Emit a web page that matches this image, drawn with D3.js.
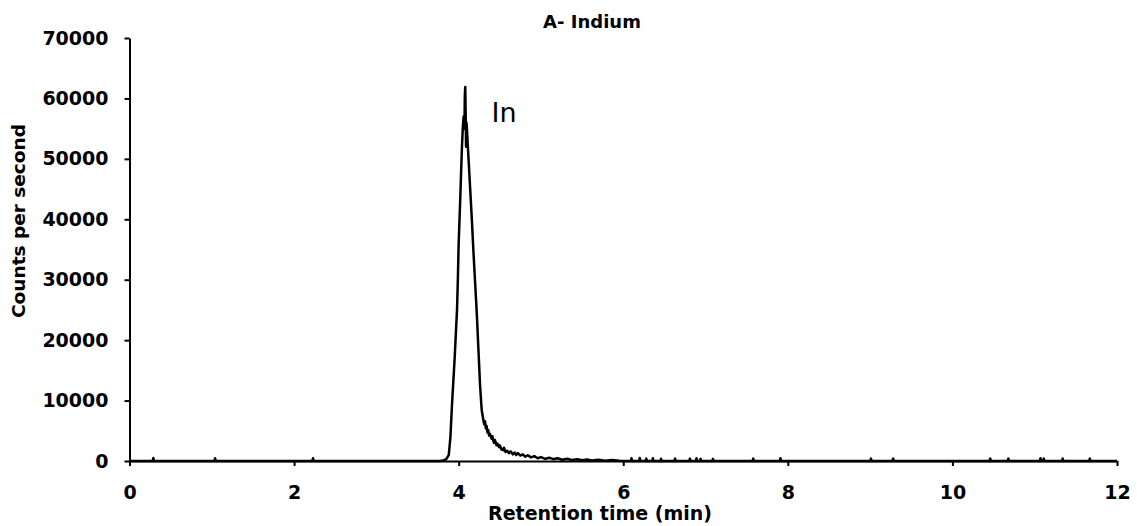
<!DOCTYPE html>
<html>
<head>
<meta charset="utf-8">
<script src="https://cdn.jsdelivr.net/npm/d3@7"></script>
<style>
    html, body { margin: 0; padding: 0; background: #fff; }
    svg { display: block; font-family: 'DejaVu Sans', Verdana, sans-serif; }
</style>
</head>
<body>
<div id="chart"></div>
<script>
// retention time (min) and signal (counts per second)
const retentionTime = [
    0, 0.282, 0.29, 0.298, 1.032, 1.04, 1.048, 2.222, 2.23, 2.238, 3.70, 3.78,
    3.82, 3.85, 3.88, 3.90, 3.92, 3.95, 3.98, 3.99, 4.00, 4.02,
    4.03, 4.04, 4.05, 4.06, 4.07, 4.075, 4.08, 4.085, 4.09, 4.095, 4.10, 4.11,
    4.12, 4.14, 4.16, 4.18, 4.20, 4.22, 4.24, 4.26, 4.28,
    4.29, 4.30, 4.31, 4.32, 4.33, 4.34, 4.35, 4.36, 4.37, 4.38, 4.40, 4.41,
    4.42, 4.43, 4.44, 4.46, 4.47, 4.49, 4.50, 4.52, 4.54, 4.55, 4.57, 4.59,
    4.61, 4.63, 4.66, 4.68, 4.70, 4.72, 4.75, 4.78, 4.81, 4.84, 4.88, 4.92,
    4.96, 5.00, 5.05, 5.10, 5.15, 5.20, 5.26, 5.32, 5.38, 5.44, 5.50, 5.56,
    5.62, 5.70, 5.78, 5.86, 5.95, 6.05,
    6.092, 6.10, 6.108, 6.192, 6.20, 6.208, 6.272, 6.28, 6.288, 6.352, 6.36, 6.368,
    6.452, 6.46, 6.468, 6.622, 6.63, 6.638, 6.802, 6.81, 6.818, 6.882, 6.89, 6.898,
    6.932, 6.94, 6.948, 7.082, 7.09, 7.098, 7.572, 7.58, 7.588, 7.902, 7.91, 7.918,
    9.002, 9.01, 9.018, 9.272, 9.28, 9.288, 10.452, 10.46, 10.468, 10.672, 10.68, 10.688,
    11.062, 11.07, 11.078, 11.102, 11.11, 11.118, 11.332, 11.34, 11.348, 11.662, 11.67, 11.678,
    12
];
const countsPerSecond = [
    0, 0, 500, 0, 0, 450, 0, 0, 450, 0, 0, 0,
    150, 300, 1000, 4000, 9600, 16700, 25000, 30000, 36000, 43700,
    48000, 52000, 55000, 57000, 55000, 60500, 61900, 57500, 52000, 56000, 55000, 52500,
    50000, 45000, 40000, 34500, 29500, 24500, 18500, 12500, 8400,
    7600, 6800, 6100, 6600, 5400, 5800, 4700, 5100, 4200, 4500, 3700, 4100,
    3400, 3000, 3500, 2600, 2900, 2300, 2600, 1900, 1800, 2200, 1500, 1700,
    1300, 1600, 1100, 1400, 1000, 1300, 900, 1100, 700, 950, 600, 800,
    450, 650, 350, 550, 300, 450, 200, 380, 150, 300, 120, 250,
    100, 220, 60, 180, 40, 0,
    0, 450, 0, 0, 500, 0, 0, 400, 0, 0, 450, 0,
    0, 350, 0, 0, 400, 0, 0, 400, 0, 0, 450, 0,
    0, 350, 0, 0, 350, 0, 0, 400, 0, 0, 450, 0,
    0, 400, 0, 0, 400, 0, 0, 400, 0, 0, 400, 0,
    0, 450, 0, 0, 400, 0, 0, 400, 0, 0, 400, 0,
    0
];
const xTicks = [0, 2, 4, 6, 8, 10, 12];
const yTicks = [0, 10000, 20000, 30000, 40000, 50000, 60000, 70000];
const peakLabel = { text: 'In', time: 4.40, counts: 56100 };

const width = 1137, height = 526;
const margin = { top: 38, right: 20, bottom: 65, left: 129.5 };
const fontFamily = "'DejaVu Sans', Verdana, sans-serif";

const svg = d3.select('#chart').append('svg')
    .attr('width', width)
    .attr('height', height);

const x = d3.scaleLinear()
    .domain([0, 12])
    .range([margin.left, width - margin.right]);
const y = d3.scaleLinear()
    .domain([0, 70000])
    .range([height - margin.bottom, margin.top]);

// title
svg.append('text')
    .attr('x', 592)
    .attr('y', 28)
    .attr('text-anchor', 'middle')
    .attr('font-size', '18px')
    .attr('font-weight', 'bold')
    .text('A- Indium');

// trace
const series = retentionTime.map((t, i) => [t, countsPerSecond[i]]);
const line = d3.line()
    .x(d => x(d[0]))
    .y(d => y(d[1]));
svg.append('path')
    .datum(series)
    .attr('fill', 'none')
    .attr('stroke', '#000')
    .attr('stroke-width', 2.5)
    .attr('stroke-linejoin', 'round')
    .attr('d', line);

// axes
const xAxis = svg.append('g')
    .attr('transform', 'translate(0,' + y(0) + ')')
    .call(d3.axisBottom(x).tickValues(xTicks).tickSize(5).tickSizeOuter(0));
xAxis.selectAll('text')
    .attr('y', 38)
    .attr('dy', null)
    .attr('font-size', '19px')
    .attr('font-weight', 'bold')
    .attr('font-family', fontFamily)
    .attr('fill', '#000');

const yAxis = svg.append('g')
    .attr('transform', 'translate(' + margin.left + ',0)')
    .call(d3.axisLeft(y).tickValues(yTicks).tickFormat(d3.format('d')).tickSize(5).tickSizeOuter(0).tickPadding(16));
yAxis.selectAll('text')
    .attr('font-size', '19px')
    .attr('font-weight', 'bold')
    .attr('font-family', fontFamily)
    .attr('fill', '#000');

svg.selectAll('.domain, .tick line')
    .attr('stroke', '#000')
    .attr('stroke-width', 2);

// axis titles
svg.append('text')
    .attr('x', 600)
    .attr('y', 520)
    .attr('text-anchor', 'middle')
    .attr('font-size', '19px')
    .attr('font-weight', 'bold')
    .text('Retention time (min)');

svg.append('text')
    .attr('transform', 'translate(25,221) rotate(-90)')
    .attr('text-anchor', 'middle')
    .attr('font-size', '18.5px')
    .attr('font-weight', 'bold')
    .text('Counts per second');

// peak annotation
svg.append('text')
    .attr('x', x(peakLabel.time))
    .attr('y', y(peakLabel.counts))
    .attr('font-size', '27px')
    .text(peakLabel.text);
</script>
</body>
</html>
